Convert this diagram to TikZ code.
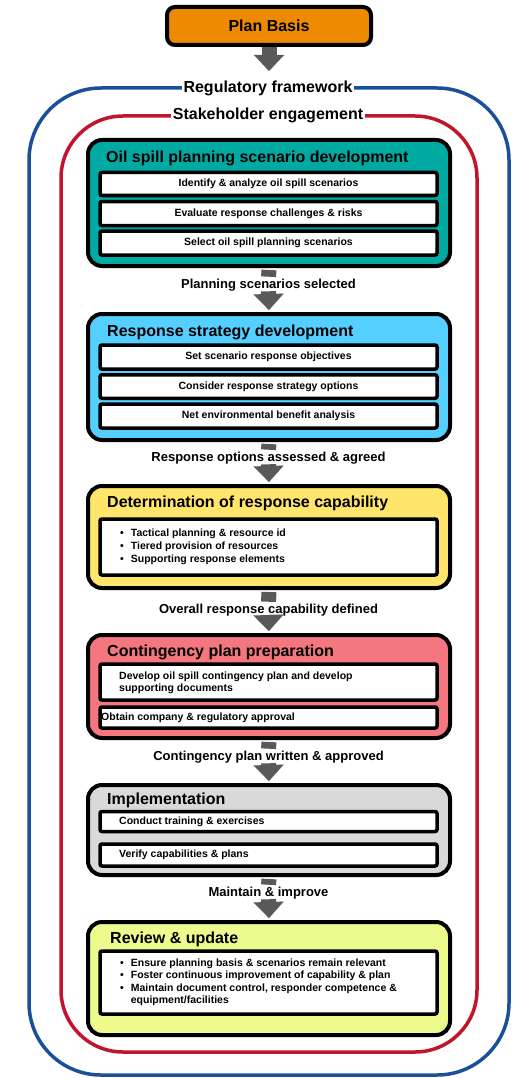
\documentclass[tikz,border=0pt]{standalone}
\usepackage{fontspec}
\setmainfont{Liberation Sans}
\usetikzlibrary{arrows.meta}
\definecolor{cOrange}{HTML}{EE8A00}
\definecolor{cTeal}{HTML}{00AAA2}
\definecolor{cSky}{HTML}{55CFFF}
\definecolor{cYellow}{HTML}{FFE56B}
\definecolor{cPink}{HTML}{F4767E}
\definecolor{cGray}{HTML}{D9D9D9}
\definecolor{cLime}{HTML}{ECFB8C}
\definecolor{cBlue}{HTML}{1B4F9C}
\definecolor{cRed}{HTML}{C0152B}
\definecolor{cArrow}{HTML}{595959}
\begin{document}
\begin{tikzpicture}[x=1pt,y=-1pt,
  stage/.style={draw=black, line width=4pt, rounded corners=14pt, minimum width=362pt, inner sep=0pt},
  substep/.style={draw=black, fill=white, line width=3.5pt, rounded corners=2pt, minimum width=337pt, inner sep=0pt, font=\fontsize{10.5}{12.6}\selectfont\bfseries},
  stagetitle/.style={anchor=west, inner sep=0pt, font=\fontsize{16}{18}\selectfont\bfseries},
  lefttext/.style={anchor=west, inner sep=0pt, align=left, font=\fontsize{10.5}{12.6}\selectfont\bfseries},
  flowlabel/.style={inner sep=0pt, font=\fontsize{13}{15}\selectfont\bfseries},
  framelabel/.style={fill=white, inner sep=2pt, font=\fontsize{16}{18}\selectfont\bfseries},
  shaft/.style={draw=cArrow, line width=15pt, shorten <=2pt, shorten >=2pt},
  head/.style={draw=cArrow, line width=15pt, shorten >=2pt, -{Triangle[width=30pt,length=16pt,line width=0.01pt]}},
]
\useasboundingbox (0,0) rectangle (514,1078);

% frames
\draw[cBlue, line width=3.5pt, rounded corners=72pt] (29,88) rectangle (509,1075);
\draw[cRed, line width=3.5pt, rounded corners=62pt] (61,116) rectangle (477,1052);
\node[framelabel] (reg) at (268,88) {Regulatory framework};
\node[framelabel] (stake) at (268,115) {Stakeholder engagement};

% plan basis
\node[draw=black, line width=4pt, fill=cOrange, rounded corners=8pt, minimum width=204pt, minimum height=38pt, inner sep=0pt, font=\fontsize{16}{18}\selectfont\bfseries] (plan) at (269,26) {Plan Basis};
\coordinate (regtop) at (269,73);

% stage 1
\node[stage, fill=cTeal, minimum height=126pt] (s1) at (269,203) {};
\node[stagetitle] (t1) at (106,158) {Oil spill planning scenario development};
\node[substep, minimum height=23pt] (s1a) at (268.5,184) {Identify \& analyze oil spill scenarios};
\node[substep, minimum height=24pt] (s1b) at (268.5,213.5) {Evaluate response challenges \& risks};
\node[substep, minimum height=24pt] (s1c) at (268.5,243) {Select oil spill planning scenarios};
\node[flowlabel] (l1) at (268.5,285) {Planning scenarios selected};

% stage 2
\node[stage, fill=cSky, minimum height=126pt] (s2) at (269,377) {};
\node[stagetitle] (t2) at (107,332) {Response strategy development};
\node[substep, minimum height=24pt] (s2a) at (268.5,357) {Set scenario response objectives};
\node[substep, minimum height=23.5pt] (s2b) at (268.5,386.5) {Consider response strategy options};
\node[substep, minimum height=24pt] (s2c) at (268.5,416) {Net environmental benefit analysis};
\node[flowlabel] (l2) at (268.5,458) {Response options assessed \& agreed};

% stage 3
\node[stage, fill=cYellow, minimum height=102pt] (s3) at (269,537) {};
\node[stagetitle] (t3) at (107,503) {Determination of response capability};
\node[substep, minimum height=56pt] (s3a) at (268.5,547) {};
\node[lefttext] (s3t) at (120,547) {\begin{tabular}{@{}l@{\hspace{7pt}}l@{}}
\textbullet & Tactical planning \& resource id\\
\textbullet & Tiered provision of resources\\
\textbullet & Supporting response elements
\end{tabular}};
\node[flowlabel] (l3) at (268.5,610) {Overall response capability defined};

% stage 4
\node[stage, fill=cPink, minimum height=103pt] (s4) at (269,686.5) {};
\node[stagetitle] (t4) at (107,652) {Contingency plan preparation};
\node[substep, minimum height=36pt] (s4a) at (268.5,682) {};
\node[lefttext] (s4at) at (119,683) {Develop oil spill contingency plan and develop\\supporting documents};
\node[substep, minimum height=21pt] (s4b) at (268.5,717.5) {};
\node[lefttext] (s4bt) at (101,717.5) {Obtain company \& regulatory approval};
\node[flowlabel] (l4) at (268.5,757) {Contingency plan written \& approved};

% stage 5
\node[stage, fill=cGray, minimum height=90pt] (s5) at (269,830) {};
\node[stagetitle] (t5) at (107,800) {Implementation};
\node[substep, minimum height=20pt] (s5a) at (268.5,821.5) {};
\node[lefttext] (s5at) at (119,822) {Conduct training \& exercises};
\node[substep, minimum height=22pt] (s5b) at (268.5,855) {};
\node[lefttext] (s5bt) at (119,855) {Verify capabilities \& plans};
\node[flowlabel] (l5) at (268.5,893) {Maintain \& improve};

% stage 6
\node[stage, fill=cLime, minimum height=113pt] (s6) at (269,978.5) {};
\node[stagetitle] (t6) at (110,939) {Review \& update};
\node[substep, minimum height=63pt] (s6a) at (268.5,982.5) {};
\node[lefttext] (s6t) at (120,982.5) {\begin{tabular}{@{}l@{\hspace{7pt}}l@{}}
\textbullet & Ensure planning basis \& scenarios remain relevant\\
\textbullet & Foster continuous improvement of capability \& plan\\
\textbullet & Maintain document control, responder competence \&\\
 & equipment/facilities
\end{tabular}};

% arrows
\draw[head] (plan.south) -- (regtop);
\draw[shaft] (s1.south) -- (l1.north);
\draw[head] (l1.south) -- (s2.north);
\draw[shaft] (s2.south) -- (l2.north);
\draw[head] (l2.south) -- (s3.north);
\draw[shaft] (s3.south) -- (l3.north);
\draw[head] (l3.south) -- (s4.north);
\draw[shaft] (s4.south) -- (l4.north);
\draw[head] (l4.south) -- (s5.north);
\draw[shaft] (s5.south) -- (l5.north);
\draw[head] (l5.south) -- (s6.north);
\end{tikzpicture}
\end{document}
